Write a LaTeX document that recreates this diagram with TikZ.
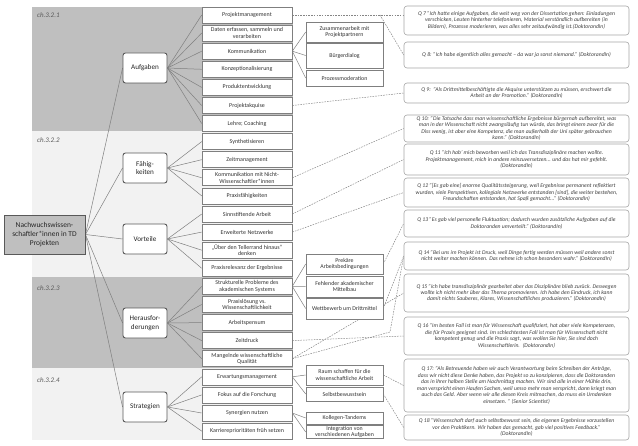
\documentclass[tikz,border=0pt]{standalone}
\usepackage{fontspec}
\setmainfont{Carlito}
\usetikzlibrary{calc}
\definecolor{bandD}{HTML}{BFBFBF}
\definecolor{bandL}{HTML}{F2F2F2}
\definecolor{edge}{HTML}{7F7F7F}
\definecolor{qedge}{HTML}{A6A6A6}
\definecolor{dk}{HTML}{595959}
\definecolor{txt}{HTML}{333333}
\definecolor{qtxt}{HTML}{404040}
\definecolor{dashc}{HTML}{858585}
\pgfdeclarelayer{back}
\pgfdeclarelayer{lines}
\pgfsetlayers{back,lines,main}
\newcommand{\fsz}[2]{\fontsize{#1}{#2}\selectfont}
\begin{document}
\begin{tikzpicture}[x=1bp,y=-1bp,
  rootbox/.style={draw=dk, line width=0.9pt, fill=bandD, minimum width=81bp, minimum height=39bp, align=center, font=\fsz{7.5}{9}, text=black!85, inner sep=1pt},
  catbox/.style={draw=dk, line width=0.9pt, fill=white, rounded corners=2.5bp, minimum width=44bp, minimum height=30bp, align=center, font=\fsz{7.2}{8.6}, text=black!85, inner sep=1pt},
  itembox/.style={draw=edge, line width=0.6pt, fill=white, minimum width=90bp, minimum height=16bp, align=center, font=\fsz{6}{6.6}, text=txt, inner sep=0.5pt},
  subbox/.style={draw=edge, line width=0.6pt, fill=white, minimum width=77bp, align=center, font=\fsz{5.9}{6.5}, text=txt, inner sep=0.5pt},
  quotebox/.style={draw=qedge, line width=0.6pt, fill=white, rounded corners=3bp, minimum width=225bp, align=center, font=\fsz{5.7}{6.5}\itshape, text=qtxt, inner sep=0.5pt},
  link/.style={draw=edge, line width=0.5pt},
  dlink/.style={draw=dashc, line width=0.5pt, dash pattern=on 1.6pt off 1.1pt},
  chlab/.style={anchor=west, font=\fsz{7}{8}\itshape, text=dk, inner sep=0pt}
]
\useasboundingbox (0,0) rectangle (638,446);
\begin{pgfonlayer}{back}
\fill[bandD] (32,7) rectangle (293,131);
\fill[bandL] (32,131) rectangle (293,277);
\fill[bandD] (32,277) rectangle (293,368);
\fill[bandL] (32,368) rectangle (293,440);
\end{pgfonlayer}
\node[chlab] (ch1) at (37,15.5) {ch.3.2.1};
\node[chlab] (ch2) at (37,140) {ch.3.2.2};
\node[chlab] (ch3) at (37,288.5) {ch.3.2.3};
\node[chlab] (ch4) at (37,380) {ch.3.2.4};

\node[rootbox] (root) at (44.5,234.5) {Nachwuchswissen-\\schaftler*innen in TD\\Projekten};

\node[catbox] (auf) at (145,68) {Aufgaben};
\node[catbox] (fae) at (145,168) {Fähig-\\keiten};
\node[catbox] (vor) at (145,239) {Vorteile};
\node[catbox] (her) at (145,323) {Herausfor-\\derungen};
\node[catbox] (str) at (145,407) {Strategien};

\node[itembox] (PM) at (247,15) {Projektmanagement};
\node[itembox] (DE) at (247,33.1) {Daten erfassen, sammeln und\\verarbeiten};
\node[itembox] (KO) at (247,51.2) {Kommunikation};
\node[itembox] (KZ) at (247,69.3) {Konzeptionalisierung};
\node[itembox] (PE) at (247,87.4) {Produktentwicklung};
\node[itembox] (PA) at (247,105.5) {Projektakquise};
\node[itembox] (LC) at (247,123.5) {Lehre; Coaching};
\node[itembox] (SY) at (247,141.6) {Synthetisieren};
\node[itembox] (ZM) at (247,159.7) {Zeitmanagement};
\node[itembox] (KN) at (247,177.8) {Kommunikation mit Nicht-\\Wissenschaftler*innen};
\node[itembox] (PF) at (247,195.9) {Praxisfähigkeiten};
\node[itembox] (SA) at (247,214) {Sinnstiftende Arbeit};
\node[itembox] (EN) at (247,232.1) {Erweiterte Netzwerke};
\node[itembox] (UT) at (247,250.2) {„Über den Tellerrand hinaus“\\denken};
\node[itembox] (PX) at (247,268.3) {Praxisrelevanz der Ergebnisse};
\node[itembox] (SP) at (247,286.4) {Strukturelle Probleme des\\akademischen Systems};
\node[itembox] (PL) at (247,304.5) {Praxislösung vs.\\Wissenschaftlichkeit};
\node[itembox] (AP) at (247,322.6) {Arbeitspensum};
\node[itembox] (ZD) at (247,340.6) {Zeitdruck};
\node[itembox] (MQ) at (247,358.7) {Mangelnde wissenschaftliche\\Qualität};
\node[itembox] (EM) at (247,376.8) {Erwartungsmanagement};
\node[itembox] (FF) at (247,394.9) {Fokus auf die Forschung};
\node[itembox] (SN) at (247,413) {Synergien nutzen};
\node[itembox] (KP) at (247,431.1) {Karriereprioritäten früh setzen};

\node[subbox, minimum height=20bp] (ZP) at (344.5,32) {Zusammenarbeit mit\\Projektpartnern};
\node[subbox, minimum height=25bp] (BD) at (344.5,55.5) {Bürgerdialog};
\node[subbox, minimum height=16bp] (PZ) at (344.5,78) {Prozessmoderation};
\node[subbox, minimum height=20bp] (PR) at (344.5,264) {Prekäre\\Arbeitsbedingungen};
\node[subbox, minimum height=21bp] (FM) at (344.5,286.5) {Fehlender akademischer\\Mittelbau};
\node[subbox, minimum height=21bp] (WD) at (344.5,308.5) {Wettbewerb um Drittmittel};
\node[subbox, minimum height=20bp] (RS) at (344.5,375) {Raum schaffen für die\\wissenschaftliche Arbeit};
\node[subbox, minimum height=14bp] (SB) at (344.5,394) {Selbstbewusstsein};
\node[subbox, minimum height=12bp] (KT) at (344.5,418) {Kollegen-Tandems};
\node[subbox, minimum height=12bp] (IV) at (344.5,432) {Integration von\\verschiedenen Aufgaben};

\node[quotebox, minimum height=29bp] (Q7) at (516.5,20.5) {Q 7 "Ich hatte einige Aufgaben, die weit weg von der Dissertation gehen: Einladungen\\verschicken, Leuten hinterher telefonieren, Material verständlich aufbereiten (in\\Bildern), Prozesse moderieren, was alles sehr zeitaufwändig ist.(DoktorandIn)};
\node[quotebox, minimum height=26bp] (Q8) at (516.5,55) {Q 8: "Ich habe eigentlich alles gemacht -- da war ja sonst niemand." (DoktorandIn)};
\node[quotebox, minimum height=20bp] (Q9) at (516.5,93) {Q 9:\enspace"Als Drittmittelbeschäftigte die Akquise unterstützen zu müssen, erschwert die\\Arbeit an der Promotion." (DoktorandIn)};
\node[quotebox, minimum height=27bp] (Q10) at (516.5,128.5) {Q 10: "Die Tatsache dass man wissenschaftliche Ergebnisse bürgernah aufbereitet, was\\man in der Wissenschaft nicht zwangsläufig tun würde, das bringt einem zwar für die\\Diss wenig, ist aber eine Kompetenz, die man außerhalb der Uni später gebrauchen\\kann." (DoktorandIn)};
\node[quotebox, minimum height=31bp] (Q11) at (516.5,159.5) {Q 11 "Ich hab' mich beworben weil ich das Transdisziplinäre machen wollte.\\Projektmanagement, mich in andere reinzuversetzen... und das hat mir gefehlt.\\(DoktorandIn)};
\node[quotebox, minimum height=29bp] (Q12) at (516.5,192.5) {Q 12 "[Es gab eine] enorme Qualitätssteigerung, weil Ergebnisse permanent reflektiert\\wurden, viele Perspektiven, kollegiale Netzwerke entstanden [sind], die weiter bestehen,\\Freundschaften entstanden, hat Spaß gemacht..." (DoktorandIn)};
\node[quotebox, minimum height=27bp] (Q13) at (516.5,223.5) {Q 13 "Es gab viel personelle Fluktuation; dadurch wurden zusätzliche Aufgaben auf die\\Doktoranden umverteilt." (DoktorandIn)};
\node[quotebox, minimum height=28bp] (Q14) at (516.5,256) {Q 14 "Bei uns im Projekt ist Druck, weil Dinge fertig werden müssen weil andere sonst\\nicht weiter machen können. Das nehme ich schon besonders wahr." (DoktorandIn)};
\node[quotebox, minimum height=38bp] (Q15) at (516.5,293) {Q 15 "Ich habe transdisziplinär gearbeitet aber das Disziplinäre blieb zurück. Deswegen\\wollte ich nicht mehr über das Thema promovieren. Ich habe den Eindruck, ich kann\\damit nichts Sauberes, Klares, Wissenschaftliches produzieren." (DoktorandIn)};
\node[quotebox, minimum height=38bp] (Q16) at (516.5,336) {Q 16 "Im besten Fall ist man für Wissenschaft qualifiziert, hat aber viele Kompetenzen,\\die für Praxis geeignet sind. Im schlechtesten Fall ist man für Wissenschaft nicht\\kompetent genug und die Praxis sagt, was wollen Sie hier, Sie sind doch\\Wissenschaftlerin.\enspace(DoktorandIn)};
\node[quotebox, minimum height=53bp] (Q17) at (516.5,385.5) {Q 17: "Als Betreuende haben wir auch Verantwortung beim Schreiben der Anträge,\\dass wir nicht diese Denke haben, das Projekt so zu konzipieren, dass die Doktoranden\\das in ihrer halben Stelle am Nachmittag machen. Wir sind alle in einer Mühle drin,\\man verspricht einen Haufen Sachen, weil umso mehr man verspricht, dann kriegt man\\auch das Geld. Aber wenn wir alle diesen Kreis mitmachen, da muss ein Umdenken\\einsetzen. " (Senior Scientist)};
\node[quotebox, minimum height=25bp] (Q18) at (516.5,427.5) {Q 18 "Wissenschaft darf auch selbstbewusst sein, die eigenen Ergebnisse vorzustellen\\vor den Praktikern. Wir haben das gemacht, gab viel positives Feedback."\\(DoktorandIn)};

\begin{pgfonlayer}{lines}
\foreach \c in {auf,fae,vor,her,str} \draw[link] (root.east) -- (\c.west);
\foreach \i in {PM,DE,KO,KZ,PE,PA,LC} \draw[link] (auf.east) -- (\i.west);
\foreach \i in {SY,ZM,KN,PF} \draw[link] (fae.east) -- (\i.west);
\foreach \i in {SA,EN,UT,PX} \draw[link] (vor.east) -- (\i.west);
\foreach \i in {SP,PL,AP,ZD,MQ} \draw[link] (her.east) -- (\i.west);
\foreach \i in {EM,FF,SN,KP} \draw[link] (str.east) -- (\i.west);
\foreach \s in {ZP,BD,PZ} \draw[link] (KO.east) -- (\s.west);
\foreach \s in {PR,FM,WD} \draw[link] (SP.east) -- (\s.west);
\foreach \s in {RS,SB} \draw[link] (EM.east) -- (\s.west);
\foreach \s in {KT,IV} \draw[link] (SN.east) -- (\s.west);
\coordinate (pmk) at (380,15);
\coordinate (mqk) at (390,332);
\draw[dlink] (PM.east) -- (PM.east -| Q7.west);
\draw[dlink] (pmk) -- (Q8.west);
\draw[dlink] (PA.east) -- (Q9.west);
\draw[dlink] (KN.east) -- (Q10.west);
\draw[dlink] (SA.east) -- (Q11.west);
\draw[dlink] (EN.east) -- (Q12.west);
\draw[dlink] (PR.east) -- (Q13.west);
\draw[dlink] (WD.east) -- (Q14.west);
\draw[dlink] (MQ.east) -- (mqk) -- (Q14.west);
\draw[dlink] (MQ.east) -- (Q15.west);
\draw[dlink] (ZD.east) -- (Q16.west);
\draw[dlink] (RS.east) -- (Q17.west);
\draw[dlink] (SB.east) -- (Q18.west);
\end{pgfonlayer}
\end{tikzpicture}
\end{document}
